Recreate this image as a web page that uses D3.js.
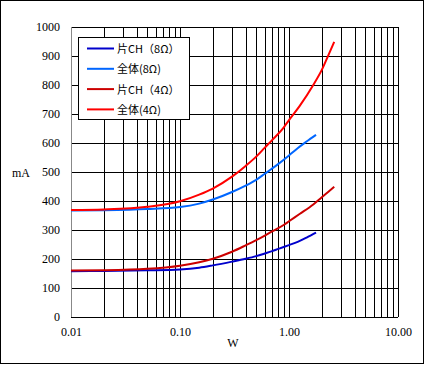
<!DOCTYPE html>
<html>
<head>
<meta charset="utf-8">
<script src="https://cdn.jsdelivr.net/npm/d3@7"></script>
<style>
  body { margin: 0; background: #fff; }
  svg { display: block; }
</style>
</head>
<body>
<div class="chart-div"></div>
<script>
// data
var seriesNames = ["片CH（8Ω）", "全体(8Ω)", "片CH（4Ω）", "全体(4Ω)"];
var seriesColors = ["#0000cc", "#0066ff", "#cc0000", "#ff0000"];

var power8 = [0.01, 0.02, 0.05, 0.1, 0.15, 0.2, 0.3, 0.4, 0.5, 0.6, 0.7, 0.8, 1.0, 1.2, 1.45, 1.77];
var ch8 = [158, 159, 161, 164, 170, 178, 191, 201, 210, 219, 227, 235, 248, 259, 274, 291];
var all8 = [367, 368, 372, 379, 391, 405, 431, 453, 473, 494, 512, 528, 557, 582, 605, 628];

var power4 = [0.01, 0.02, 0.05, 0.1, 0.15, 0.2, 0.3, 0.4, 0.5, 0.6, 0.7, 0.9, 1.0, 1.25, 1.67, 2.0, 2.3, 2.6];
var ch4 = [160, 161, 166, 177, 189, 201, 225, 247, 265, 281, 295, 318, 330, 355, 388, 413, 432, 449];
var all4 = [369, 371, 380, 399, 422, 443, 484, 521, 553, 584, 610, 655, 679, 727, 800, 852, 903, 949];

var xTicks = [0.01, 0.1, 1, 10];
var yTicks = [0, 100, 200, 300, 400, 500, 600, 700, 800, 900, 1000];

var series = [
  {name: seriesNames[0], color: seriesColors[0], x: power8, y: ch8},
  {name: seriesNames[1], color: seriesColors[1], x: power8, y: all8},
  {name: seriesNames[2], color: seriesColors[2], x: power4, y: ch4},
  {name: seriesNames[3], color: seriesColors[3], x: power4, y: all4}
];

var W = 425, H = 365;
var margin = {top: 27, right: 27, bottom: 48, left: 71},
  width = 398 - margin.left,
  height = 317 - margin.top;

var svg = d3.select(".chart-div").append("svg").attr("width", W).attr("height", H);

// outer frame
svg.append("rect").attr("x", 0.5).attr("y", 0.5).attr("width", 423).attr("height", 363)
  .attr("fill", "#fff").attr("stroke", "#000").attr("stroke-width", 1);

var g = svg.append("g").attr("transform", "translate(" + margin.left + "," + margin.top + ")");

var x = d3.scaleLog().domain([0.01, 10]).range([0, width]);
var y = d3.scaleLinear().domain([0, 1000]).range([height, 0]);

// grid: every log subdivision
var minor = [];
[0.01, 0.1, 1].forEach(function(d) {
  for (var k = 1; k <= 10; k++) minor.push(d * k);
});

g.append("g").attr("class", "vgrid").selectAll("line").data(minor).enter().append("line")
  .attr("x1", function(d) { return Math.round(x(d)) + 0.5; })
  .attr("x2", function(d) { return Math.round(x(d)) + 0.5; })
  .attr("y1", 0).attr("y2", height)
  .attr("stroke", "#000").attr("stroke-width", 1);

g.append("g").attr("class", "hgrid").selectAll("line").data(yTicks).enter().append("line")
  .attr("x1", 0).attr("x2", width)
  .attr("y1", function(d) { return Math.round(y(d)) + 0.5; })
  .attr("y2", function(d) { return Math.round(y(d)) + 0.5; })
  .attr("stroke", "#000").attr("stroke-width", 1);

// left axis line is grey
g.append("line").attr("x1", 0.5).attr("x2", 0.5).attr("y1", 0).attr("y2", height)
  .attr("stroke", "#888").attr("stroke-width", 1);

// axes
var yAxis = d3.axisLeft(y).tickValues(yTicks).tickSize(0).tickPadding(11).tickFormat(d3.format("d"));
var xAxis = d3.axisBottom(x).tickValues(xTicks).tickSize(0).tickPadding(10).tickFormat(d3.format(".2f"));

var ya = g.append("g").attr("class", "y axis").call(yAxis);
var xa = g.append("g").attr("class", "x axis").attr("transform", "translate(0," + height + ")").call(xAxis);
[ya, xa].forEach(function(a) {
  a.select(".domain").remove();
  a.selectAll("text").style("font-family", "'Liberation Serif', 'Times New Roman', serif")
    .style("font-size", "12px").attr("fill", "#000");
});

svg.append("text").attr("x", 21).attr("y", 177).attr("text-anchor", "middle")
  .style("font-family", "'Liberation Serif', serif").style("font-size", "12px").text("mA");
svg.append("text").attr("x", 233).attr("y", 347).attr("text-anchor", "middle")
  .style("font-family", "'Liberation Serif', serif").style("font-size", "12px").text("W");

// curves
var line = d3.line()
  .x(function(d) { return x(d[0]); })
  .y(function(d) { return y(d[1]); })
  .curve(d3.curveMonotoneX);

g.selectAll(".curve").data(series).enter().append("path").attr("class", "curve")
  .attr("d", function(s) { return line(s.x.map(function(v, i) { return [v, s.y[i]]; })); })
  .attr("fill", "none")
  .attr("stroke", function(s) { return s.color; })
  .attr("stroke-width", 2);

// legend
var lg = svg.append("g").attr("transform", "translate(78.5,37.5)");
lg.append("rect").attr("width", 111).attr("height", 82).attr("fill", "#fff").attr("stroke", "#000");
var item = lg.selectAll(".item").data(series).enter().append("g").attr("class", "item")
  .attr("transform", function(d, i) { return "translate(0," + (11 + i * 20.3) + ")"; });
item.append("line").attr("x1", 8.5).attr("x2", 35.5).attr("y1", 0).attr("y2", 0)
  .attr("stroke", function(d) { return d.color; }).attr("stroke-width", 2);
item.append("text").attr("x", 38.5).attr("y", 4.5)
  .style("font-family", "'Noto Sans CJK JP', sans-serif").style("font-size", "11px")
  .text(function(d) { return d.name; });
</script>
</body>
</html>
